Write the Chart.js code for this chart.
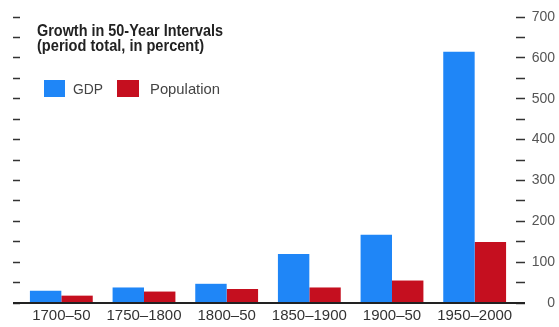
<!DOCTYPE html>
<html>
<head>
<meta charset="utf-8">
<script src="https://cdn.jsdelivr.net/npm/chart.js@4/dist/chart.umd.min.js"></script>
<style>
  html, body { margin: 0; padding: 0; background: #fff; }
  #wrap { width: 559px; height: 327px; position: relative; }
</style>
</head>
<body>
<div id="wrap"><canvas id="chart"></canvas></div>
<script>
const categories = ['1700\u201350', '1750\u20131800', '1800\u201350', '1850\u20131900', '1900\u201350', '1950\u20132000'];
const gdpGrowth = [30, 38, 47, 120, 167, 615];
const populationGrowth = [18, 28, 34, 38, 55, 149];
const titleLines = ['Growth in 50-Year Intervals', '(period total, in percent)'];
const axisMin = 0;
const axisMax = 700;
const tickStep = 50;
const labelStep = 100;

const blue = '#1f86f7';
const red = '#c50f1f';

// baseline, title and legend sit inside the plot, so draw them by hand
const extras = {
    id: 'extras',
    afterDraw(chart) {
        const ctx = chart.ctx;
        const yl = chart.scales.y;
        const yr = chart.scales.y2;
        const y0 = yl.getPixelForValue(0);
        ctx.save();
        ctx.strokeStyle = '#222';
        ctx.lineWidth = 2;
        ctx.beginPath();
        ctx.moveTo(yl.right - 7, y0);
        ctx.lineTo(yr.left + 9, y0);
        ctx.stroke();

        ctx.fillStyle = '#222';
        ctx.textBaseline = 'alphabetic';
        ctx.font = 'bold 16px "Liberation Sans", Arial, sans-serif';
        ctx.fillText(titleLines[0], 37, 36, 186);
        ctx.fillText(titleLines[1], 37, 51, 167);

        ctx.font = '15px "Liberation Sans", Arial, sans-serif';
        ctx.textBaseline = 'middle';
        const items = [
            { x: 44, w: 21, tx: 73, tw: 30 },
            { x: 117, w: 22, tx: 150, tw: 70 }
        ];
        chart.data.datasets.forEach((ds, i) => {
            const it = items[i];
            ctx.fillStyle = ds.backgroundColor;
            ctx.fillRect(it.x, 80, it.w, 17);
            ctx.fillStyle = '#444';
            ctx.fillText(ds.label, it.tx, 90, it.tw);
        });
        ctx.restore();
    }
};

new Chart(document.getElementById('chart'), {
    type: 'bar',
    data: {
        labels: categories,
        datasets: [
            { label: 'GDP', data: gdpGrowth, backgroundColor: blue, yAxisID: 'y' },
            { label: 'Population', data: populationGrowth, backgroundColor: red, yAxisID: 'y' }
        ]
    },
    options: {
        responsive: true,
        maintainAspectRatio: false,
        animation: false,
        layout: { padding: { top: 17, right: 4, bottom: 0, left: 0 } },
        datasets: { bar: { barPercentage: 1, categoryPercentage: 0.76, borderWidth: 0 } },
        plugins: { legend: { display: false }, tooltip: { enabled: false } },
        scales: {
            x: {
                grid: { display: false, drawTicks: false },
                border: { display: false },
                ticks: {
                    color: '#333',
                    padding: 4,
                    maxRotation: 0,
                    autoSkip: false,
                    font: { family: '"Liberation Sans", Arial, sans-serif', size: 15 }
                },
                afterFit: (s) => { s.height = 24; }
            },
            y: {
                position: 'left',
                min: axisMin,
                max: axisMax,
                ticks: { display: false, stepSize: tickStep },
                grid: { drawOnChartArea: false, tickLength: 7, tickColor: '#333', tickWidth: 1.5 },
                border: { display: false },
                afterFit: (s) => { s.width = 20; }
            },
            y2: {
                position: 'right',
                min: axisMin,
                max: axisMax,
                ticks: {
                    stepSize: tickStep,
                    color: '#555',
                    crossAlign: 'far',
                    padding: 6,
                    font: { family: '"Liberation Sans", Arial, sans-serif', size: 14 },
                    callback: (v) => (v % labelStep === 0 ? v : '')
                },
                grid: { drawOnChartArea: false, tickLength: 9, tickColor: '#333', tickWidth: 1.5 },
                border: { display: false },
                afterFit: (s) => { s.width = 39; }
            }
        }
    },
    plugins: [extras]
});
</script>
</body>
</html>
